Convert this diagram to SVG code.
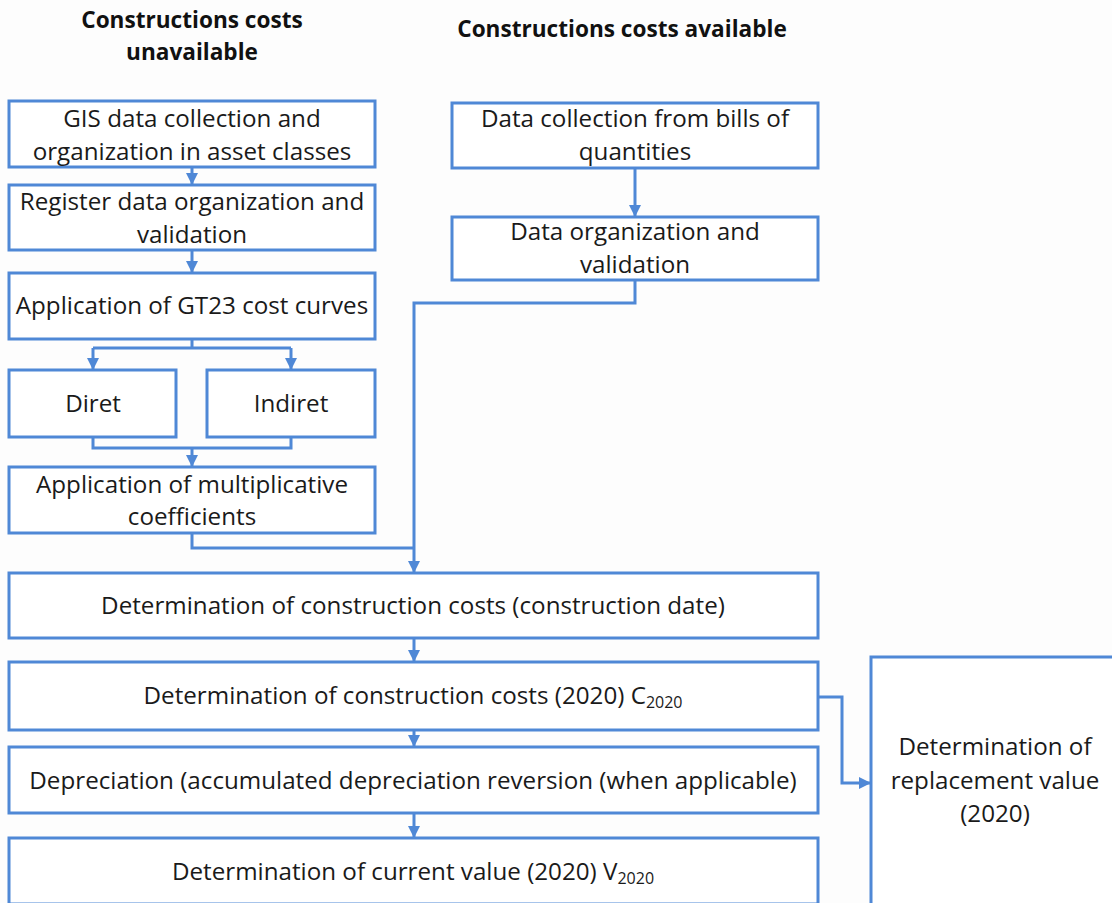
<svg xmlns="http://www.w3.org/2000/svg" width="1112" height="903" viewBox="0 0 1112 903">
<style>
.box{fill:#fff;stroke:#4f88d6;stroke-width:3}
.t{font-family:"Open Sans","Liberation Sans",Arial,sans-serif;font-size:24.2px;fill:#1a1a1a;text-anchor:middle}
.h{font-family:"Open Sans","Liberation Sans",Arial,sans-serif;font-size:22.6px;font-weight:bold;fill:#111;text-anchor:middle}
.c{fill:none;stroke:#4f88d6;stroke-width:3}
.sub{font-size:16px}
</style>
<defs>
<marker id="ah" viewBox="0 0 10 10" refX="10" refY="5" markerWidth="4" markerHeight="4" orient="auto" markerUnits="strokeWidth">
<path d="M0,0 L10,5 L0,10 z" fill="#4f88d6"/>
</marker>
</defs>
<rect width="1112" height="903" fill="#fdfdfd"/>
<text class="h" x="192" y="28">Constructions costs</text>
<text class="h" x="192" y="60">unavailable</text>
<text class="h" x="622" y="37">Constructions costs available</text>

<g id="connectors">
<path class="c" d="M192,167 V185" marker-end="url(#ah)"/>
<path class="c" d="M192,250 V273" marker-end="url(#ah)"/>
<path class="c" d="M192,339 V348 M93,348 H291"/>
<path class="c" d="M93,348 V370" marker-end="url(#ah)"/>
<path class="c" d="M291,348 V370" marker-end="url(#ah)"/>
<path class="c" d="M93,437 V448 H291 V437"/>
<path class="c" d="M192,448 V467" marker-end="url(#ah)"/>
<path class="c" d="M192,533 V548 H414"/>
<path class="c" d="M635,168 V217" marker-end="url(#ah)"/>
<path class="c" d="M635,280 V303 H414 V573" marker-end="url(#ah)"/>
<path class="c" d="M414,638 V662" marker-end="url(#ah)"/>
<path class="c" d="M414,730 V747" marker-end="url(#ah)"/>
<path class="c" d="M414,813 V838" marker-end="url(#ah)"/>
<path class="c" d="M818,697 H842 V783 H871" marker-end="url(#ah)"/>
</g>

<g id="gis"><rect class="box" x="9" y="101" width="366" height="66"/>
<text class="t" x="192" y="127">GIS data collection and</text>
<text class="t" x="192" y="160">organization in asset classes</text></g>
<g id="register"><rect class="box" x="9" y="185" width="366" height="65"/>
<text class="t" x="192" y="210">Register data organization and</text>
<text class="t" x="192" y="243">validation</text></g>
<g id="gt23"><rect class="box" x="9" y="273" width="366" height="66"/>
<text class="t" x="192" y="314">Application of GT23 cost curves</text></g>
<g id="diret"><rect class="box" x="9" y="370" width="167" height="67"/>
<text class="t" x="93" y="412">Diret</text></g>
<g id="indiret"><rect class="box" x="207" y="370" width="168" height="67"/>
<text class="t" x="291" y="412">Indiret</text></g>
<g id="mult"><rect class="box" x="9" y="467" width="366" height="66"/>
<text class="t" x="192" y="493">Application of multiplicative</text>
<text class="t" x="192" y="525">coefficients</text></g>

<g id="bills"><rect class="box" x="452" y="103" width="366" height="65"/>
<text class="t" x="635" y="127">Data collection from bills of</text>
<text class="t" x="635" y="160">quantities</text></g>
<g id="dataorg"><rect class="box" x="452" y="217" width="366" height="63"/>
<text class="t" x="635" y="240">Data organization and</text>
<text class="t" x="635" y="273">validation</text></g>

<g id="constdate"><rect class="box" x="9" y="573" width="809" height="65"/>
<text class="t" x="413" y="614">Determination of construction costs (construction date)</text></g>
<g id="c2020"><rect class="box" x="9" y="662" width="809" height="68"/>
<text class="t" x="413" y="704">Determination of construction costs (2020) C<tspan class="sub" dy="4">2020</tspan></text></g>
<g id="depr"><rect class="box" x="9" y="747" width="809" height="66"/>
<text class="t" x="413" y="789">Depreciation (accumulated depreciation reversion (when applicable)</text></g>
<g id="current"><rect class="box" x="9" y="838" width="809" height="66"/>
<text class="t" x="413" y="880">Determination of current value (2020) V<tspan class="sub" dy="4">2020</tspan></text></g>

<g id="replacement"><rect class="box" x="871" y="657" width="252" height="260"/>
<text class="t" x="995" y="755">Determination of</text>
<text class="t" x="995" y="789">replacement value</text>
<text class="t" x="995" y="822">(2020)</text></g>
</svg>
